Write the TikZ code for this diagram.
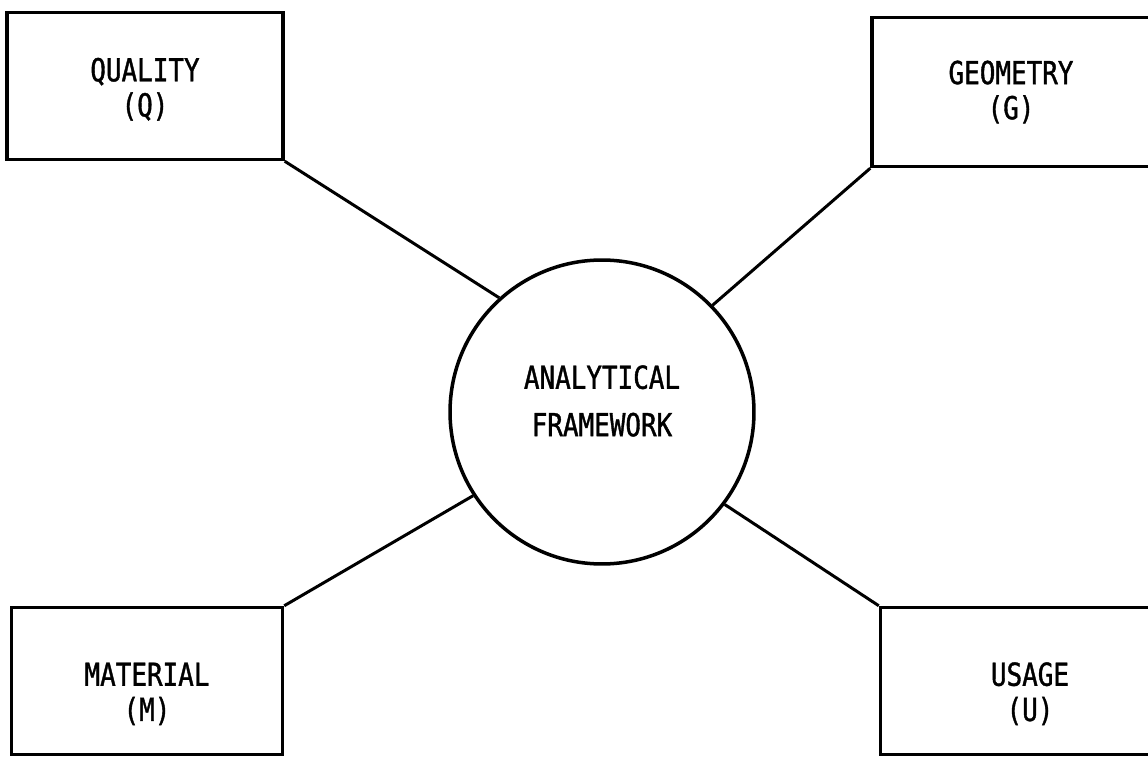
\documentclass[tikz,border=0pt]{standalone}
\usepackage{fontspec}
\setmainfont[FakeStretch=0.82,FakeBold=1.2]{DejaVu Sans Mono}
\usetikzlibrary{positioning}
\tikzstyle{block} = [draw, rectangle, line width=2pt, align=center, inner sep=0pt, font=\fontsize{18}{20}\selectfont]
\tikzstyle{lower} = [text height=1.68cm]
\tikzstyle{hub}   = [draw, circle, line width=2pt, align=center, inner sep=0pt, minimum size=6.08cm, text depth=0.45cm, font=\fontsize{18}{27}\selectfont]
\tikzstyle{link}  = [line width=1.7pt]

\begin{document}
\begin{tikzpicture}[x=0.02cm,y=-0.02cm]
		\useasboundingbox (0,0) rectangle (1148,759);
		\clip (0,0) rectangle (1148,759);

		% centre
		\node[hub] (frame) at (602,412) {ANALYTICAL\\FRAMEWORK};

		% four corners
		\node[block, text height=1.3cm, minimum width=5.52cm, minimum height=2.94cm] (qual) at (145,86) {QUALITY\\(Q)};
		\node[block, minimum width=5.56cm, minimum height=2.98cm] (geom) at (1011,92) {GEOMETRY\\(G)};
		\node[block, lower, minimum width=5.42cm, minimum height=2.94cm] (matl) at (147,681) {MATERIAL\\(M)};
		\node[block, lower, minimum width=5.98cm, minimum height=2.94cm] (usag) at (1030,681) {USAGE\\(U)};

		\draw[link] (qual.south east) -- (frame.132);
		\draw[link] (geom.south west) -- (frame.44);
		\draw[link] (matl.north east) -- (frame.213);
		\draw[link] (usag.north west) -- (frame.323);
	\end{tikzpicture}
\end{document}
